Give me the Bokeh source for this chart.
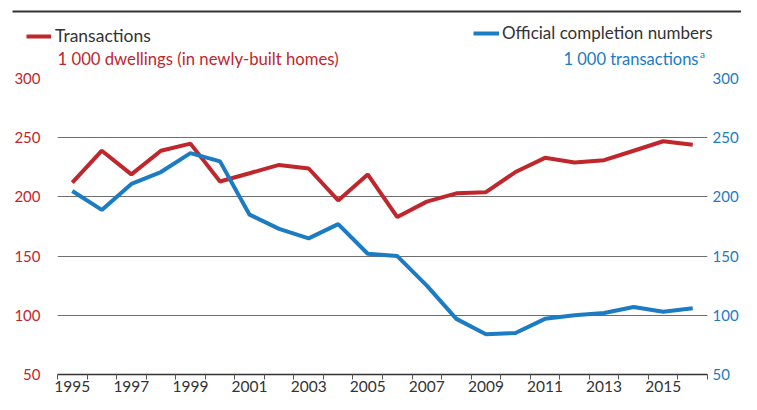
from bokeh.plotting import figure
from bokeh.layouts import column
from bokeh.models import (Range1d, LinearAxis, FixedTicker, Legend, LegendItem,
                          Label, BoxAnnotation)
from bokeh.embed import file_html
from bokeh.resources import INLINE

# ---- data ----
years = list(range(1995, 2017))
transactions = [212, 239, 219, 239, 245, 213, 220, 227, 224, 197, 219,
                183, 196, 203, 204, 221, 233, 229, 231, 239, 247, 244]
completions = [205, 189, 211, 221, 237, 230, 185, 173, 165, 177, 152,
               150, 125, 97, 84, 85, 97, 100, 102, 107, 103, 106]
y_ticks = [50, 100, 150, 200, 250, 300]
x_label_years = [1995, 1997, 1999, 2001, 2003, 2005, 2007, 2009, 2011, 2013, 2015]
x_boundaries = [1994.5 + i for i in range(23)]

series1_name = "Transactions"
series2_name = "Official completion numbers"
unit1 = "1 000 dwellings (in newly-built homes)"
unit2 = "1 000 transactions"
unit2_note = "a"

RED = "#c0272d"
BLUE = "#1b7bc3"
DARK = "#333333"
FONT = "Lato"
W = 741
HEAD_H = 70
MAIN_H = 394 - HEAD_H
NAN = float("nan")

# ---------------- header (legend + units) ----------------
h = figure(width=W, height=HEAD_H, output_backend="svg", toolbar_location=None,
           x_range=Range1d(0, W), y_range=Range1d(HEAD_H, 0),
           min_border=0, x_axis_location=None, y_axis_location=None)
h.frame_align = False
h.outline_line_color = None
h.xgrid.visible = False
h.ygrid.visible = False

# legend-only renderers (no visible data in the header)
d1 = h.line(x=[NAN], y=[NAN], line_color=RED, line_width=4)
d2 = h.line(x=[NAN], y=[NAN], line_color=BLUE, line_width=4)

leg1 = Legend(items=[LegendItem(label=series1_name, renderers=[d1])],
              location=(26, HEAD_H - 46), glyph_width=25, glyph_height=20,
              label_height=20, label_standoff=4, padding=0, margin=0,
              border_line_color=None, background_fill_alpha=0,
              label_text_font=FONT, label_text_font_size="17.5px",
              label_text_color=DARK)
leg2 = Legend(items=[LegendItem(label=series2_name, renderers=[d2])],
              location=(473, HEAD_H - 43), glyph_width=26, glyph_height=20,
              label_height=20, label_standoff=3, padding=0, margin=0,
              border_line_color=None, background_fill_alpha=0,
              label_text_font=FONT, label_text_font_size="17px",
              label_text_color=DARK)
h.add_layout(leg1, "center")
h.add_layout(leg2, "center")

h.add_layout(Label(x=57, y=58, text=unit1, text_color=RED, text_font=FONT,
                   text_font_size="16.7px", text_align="left", text_baseline="middle"))
h.add_layout(Label(x=698, y=58, text=unit2, text_color=BLUE, text_font=FONT,
                   text_font_size="16.5px", text_align="right", text_baseline="middle"))
h.add_layout(Label(x=699.5, y=53, text=unit2_note, text_color=BLUE, text_font=FONT,
                   text_font_size="10px", text_align="left", text_baseline="middle"))
h.add_layout(BoxAnnotation(left=12, right=W, top=10, bottom=12,
                           fill_color=DARK, fill_alpha=1, line_color=None))

# ---------------- main chart ----------------
p = figure(width=W, height=MAIN_H, output_backend="svg", toolbar_location=None,
           x_range=Range1d(1994.5, 2016.5), y_range=Range1d(50, 300),
           min_border_left=57, min_border_right=32, min_border_top=8,
           min_border_bottom=19, y_axis_location=None, x_axis_location=None)
p.frame_align = False
p.outline_line_color = None

xax = LinearAxis(ticker=FixedTicker(ticks=x_label_years, minor_ticks=x_boundaries))
xax.major_tick_in = 0
xax.major_tick_out = 0
xax.minor_tick_in = 0
xax.minor_tick_out = 5
xax.minor_tick_line_color = "#555555"
xax.axis_line_color = DARK
xax.axis_line_width = 1.5
xax.major_label_standoff = 1
xax.major_label_text_font = FONT
xax.major_label_text_font_size = "15.5px"
xax.major_label_text_color = DARK
p.add_layout(xax, "below")

lax = LinearAxis(ticker=FixedTicker(ticks=y_ticks))
lax.axis_line_color = None
lax.major_tick_line_color = None
lax.major_tick_out = 0
lax.major_tick_in = 0
lax.minor_tick_line_color = None
lax.major_label_standoff = 17
lax.major_label_text_font = FONT
lax.major_label_text_font_size = "15px"
lax.major_label_text_color = RED
p.add_layout(lax, "left")

rax = LinearAxis(ticker=FixedTicker(ticks=y_ticks))
rax.axis_line_color = None
rax.major_tick_line_color = None
rax.major_tick_out = 0
rax.major_tick_in = 0
rax.minor_tick_line_color = None
rax.major_label_standoff = 5
rax.major_label_text_font = FONT
rax.major_label_text_font_size = "15px"
rax.major_label_text_color = BLUE
p.add_layout(rax, "right")

p.xgrid.visible = False
p.ygrid.ticker = FixedTicker(ticks=y_ticks)
p.ygrid.grid_line_color = "#6e6e6e"
p.ygrid.grid_line_width = 1

r1 = p.line(years, transactions, line_color=RED, line_width=4)
r2 = p.line(years, completions, line_color=BLUE, line_width=4)

layout = column(h, p, spacing=0)
open("out.html", "w").write(file_html(layout, INLINE))
